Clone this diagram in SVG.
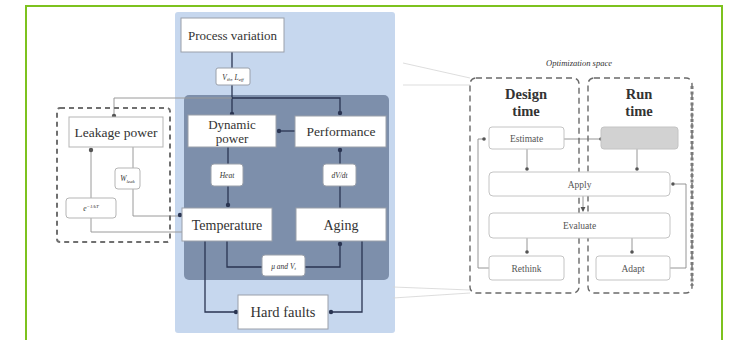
<svg xmlns="http://www.w3.org/2000/svg" width="732" height="340" viewBox="0 0 732 340">
<style>
text{font-family:"Liberation Serif","DejaVu Serif",serif;fill:#333;text-anchor:middle}
.wb{fill:#fff;stroke:#9aa0aa;stroke-width:1}
.lb{fill:#fff;stroke:#b5b5b5;stroke-width:1}
.rb{fill:#fff;stroke:#c4c4c4;stroke-width:1}
.dk{fill:none;stroke:#2a3552;stroke-width:1.3}
.gl{fill:none;stroke:#9a9a9a;stroke-width:1}
.rl{fill:none;stroke:#8a8a8a;stroke-width:0.9}
.fl{fill:none;stroke:#d4d4d4;stroke-width:0.8}
.dd{fill:#2a3552}
.gd{fill:#555}
.lbl{font-size:7.5px;font-style:italic}
.sm{font-size:9.5px;fill:#555}
</style>
<defs>
<marker id="ar" markerWidth="6" markerHeight="6" refX="5" refY="3" orient="auto"><path d="M0,0 L6,3 L0,6 z" fill="#555"/></marker>
</defs>
<rect x="0" y="0" width="732" height="340" fill="#fff"/>
<rect x="26" y="6" width="696" height="350" fill="none" stroke="#7dc21e" stroke-width="2"/>

<g id="panels">
<rect x="175" y="12" width="220" height="321" rx="3" fill="#c6d7ee"/>
<rect x="184" y="95" width="205" height="185" rx="5" fill="#7d8fab"/>
</g>

<g id="zoomlines">
<path class="fl" d="M403,63 L470,78 M403,85 L470,85 M393,287 L470,290 M393,298 L470,293"/>
</g>

<g id="connectors">
<path class="dk" d="M232,52 L232,113"/>
<circle class="dd" cx="232" cy="114" r="2.2"/>
<path class="dk" d="M232,98 L340,98 L340,112"/>
<circle class="dd" cx="340" cy="113" r="2.2"/>
<path class="gl" d="M114,98 L232,98 M114,98 L114,115"/>
<circle class="gd" cx="114" cy="116" r="2.2"/>
<path class="dk" d="M295,131 L278,131"/>
<circle class="dd" cx="279" cy="131" r="2.2"/>
<path class="dk" d="M228,147 L228,206"/>
<circle class="dd" cx="228" cy="205" r="2.2"/>
<path class="dk" d="M340,208 L340,150"/>
<circle class="dd" cx="340" cy="150" r="2.2"/>
<path class="dk" d="M227,241 L227,267 L340,267 L340,244"/>
<circle class="dd" cx="340" cy="244" r="2.2"/>
<path class="dk" d="M205,241 L205,312 L236,312"/>
<circle class="dd" cx="236" cy="312" r="2.2"/>
<path class="dk" d="M362,241 L362,312 L330,312"/>
<circle class="dd" cx="331" cy="312" r="2.2"/>
<path class="gl" d="M133,147 L133,216 L180,216"/>
<circle class="dd" cx="180" cy="215" r="2.2"/>
<path class="gl" d="M182,232 L91,232 L91,150"/>
<circle class="gd" cx="91" cy="150" r="2.2"/>

<path class="rl" d="M564,139 L600,139"/>
<circle class="gd" cx="601" cy="139" r="1.8"/>
<path class="rl" d="M489,268 L478,268 L478,139 L483,139"/>
<circle class="gd" cx="484" cy="139" r="1.8"/>
<path class="rl" d="M527,149 L527,168"/>
<circle class="gd" cx="527" cy="169" r="1.8"/>
<path class="rl" d="M637,149 L637,168"/>
<circle class="gd" cx="637" cy="169" r="1.8"/>
<path class="rl" d="M670,268 L686,268 L686,184 L675,184"/>
<circle class="gd" cx="673" cy="184" r="1.8"/>
<path class="rl" d="M583,196 L583,211" marker-end="url(#ar)"/>
<path class="rl" d="M527,238 L527,251"/>
<circle class="gd" cx="527" cy="252" r="1.8"/>
<path class="rl" d="M632,238 L632,251"/>
<circle class="gd" cx="632" cy="252" r="1.8"/>
</g>

<g id="leakage-group">
<rect x="57" y="108" width="113" height="134" rx="3" fill="none" stroke="#707070" stroke-width="2" stroke-dasharray="5,4"/>
</g>

<g id="process-variation">
<rect class="wb" x="181" y="18" width="103" height="34"/>
<text x="232.5" y="40" font-size="13">Process variation</text>
</g>
<g id="vth-leff">
<rect class="wb" x="216" y="68" width="34" height="17" rx="2"/>
<text class="lbl" x="233" y="79.5">V<tspan font-size="5" dy="1.5">th</tspan><tspan dy="-1.5">, L</tspan><tspan font-size="5" dy="1.5">eff</tspan></text>
</g>
<g id="dynamic-power">
<rect class="wb" x="188" y="115" width="88" height="32"/>
<text x="232" y="129" font-size="13">Dynamic</text>
<text x="232" y="143" font-size="13">power</text>
</g>
<g id="performance">
<rect class="wb" x="295" y="116" width="91" height="31"/>
<text x="341" y="136" font-size="13.5">Performance</text>
</g>
<g id="heat">
<rect class="wb" x="211" y="164" width="32" height="22" rx="3"/>
<text class="lbl" x="227" y="178">Heat</text>
</g>
<g id="dvdt">
<rect class="wb" x="323" y="164" width="33" height="22" rx="3"/>
<text class="lbl" x="339.5" y="178">dV/dt</text>
</g>
<g id="temperature">
<rect class="wb" x="182" y="208" width="90" height="33"/>
<text x="227" y="229.5" font-size="14">Temperature</text>
</g>
<g id="aging">
<rect class="wb" x="296" y="208" width="90" height="33"/>
<text x="341" y="229.5" font-size="14">Aging</text>
</g>
<g id="mu-vt">
<rect class="wb" x="262" y="255" width="43" height="21" rx="3"/>
<text class="lbl" x="283.5" y="268.5">μ and V<tspan font-size="5" dy="1.5">t</tspan></text>
</g>
<g id="hard-faults">
<rect class="wb" x="238" y="295" width="90" height="34"/>
<text x="283" y="317" font-size="14.5">Hard faults</text>
</g>
<g id="leakage-power">
<rect class="lb" x="69" y="117" width="94" height="30"/>
<text x="116" y="136.5" font-size="13.5">Leakage power</text>
</g>
<g id="wleak">
<rect class="lb" x="115" y="168" width="25" height="21" rx="3"/>
<text class="lbl" x="127.5" y="181">W<tspan font-size="5" dy="1.5">leak</tspan></text>
</g>
<g id="exp">
<rect class="lb" x="66" y="198" width="50" height="20" rx="3"/>
<text class="lbl" x="91" y="211">e<tspan font-size="5" dy="-3">−1/kT</tspan></text>
</g>

<g id="optimization-space">
<text x="579" y="66" font-size="8.5" font-style="italic" fill="#555">Optimization space</text>
</g>
<g id="design-time">
<rect x="470" y="78" width="109" height="215" rx="6" fill="none" stroke="#6a6a6a" stroke-width="1.4" stroke-dasharray="6,4"/>
<text x="526" y="99" font-size="14.5" font-weight="bold">Design</text>
<text x="526" y="116" font-size="14.5" font-weight="bold">time</text>
</g>
<g id="run-time">
<rect x="588" y="78" width="104" height="215" rx="6" fill="none" stroke="#6a6a6a" stroke-width="1.4" stroke-dasharray="6,4"/>
<path d="M692,86 L692,286" stroke="#7a7a7a" stroke-width="3" stroke-dasharray="3,2.5"/>
<text x="639" y="99" font-size="14.5" font-weight="bold">Run</text>
<text x="639" y="116" font-size="14.5" font-weight="bold">time</text>
</g>
<g id="estimate">
<rect class="rb" x="489" y="127" width="75" height="22" rx="3"/>
<text class="sm" x="526.5" y="141.5">Estimate</text>
</g>
<g id="runtime-box">
<rect x="601" y="127" width="77" height="22" rx="3" fill="#d2d2d2" stroke="#c4c4c4"/>
</g>
<g id="apply">
<rect class="rb" x="489" y="172" width="181" height="24" rx="4"/>
<text class="sm" x="579.5" y="187.5">Apply</text>
</g>
<g id="evaluate">
<rect class="rb" x="489" y="213" width="181" height="25" rx="4"/>
<text class="sm" x="579.5" y="229">Evaluate</text>
</g>
<g id="rethink">
<rect class="rb" x="489" y="256" width="75" height="24" rx="3"/>
<text class="sm" x="526.5" y="271.5">Rethink</text>
</g>
<g id="adapt">
<rect class="rb" x="596" y="256" width="74" height="24" rx="3"/>
<text class="sm" x="633" y="271.5">Adapt</text>
</g>
</svg>
